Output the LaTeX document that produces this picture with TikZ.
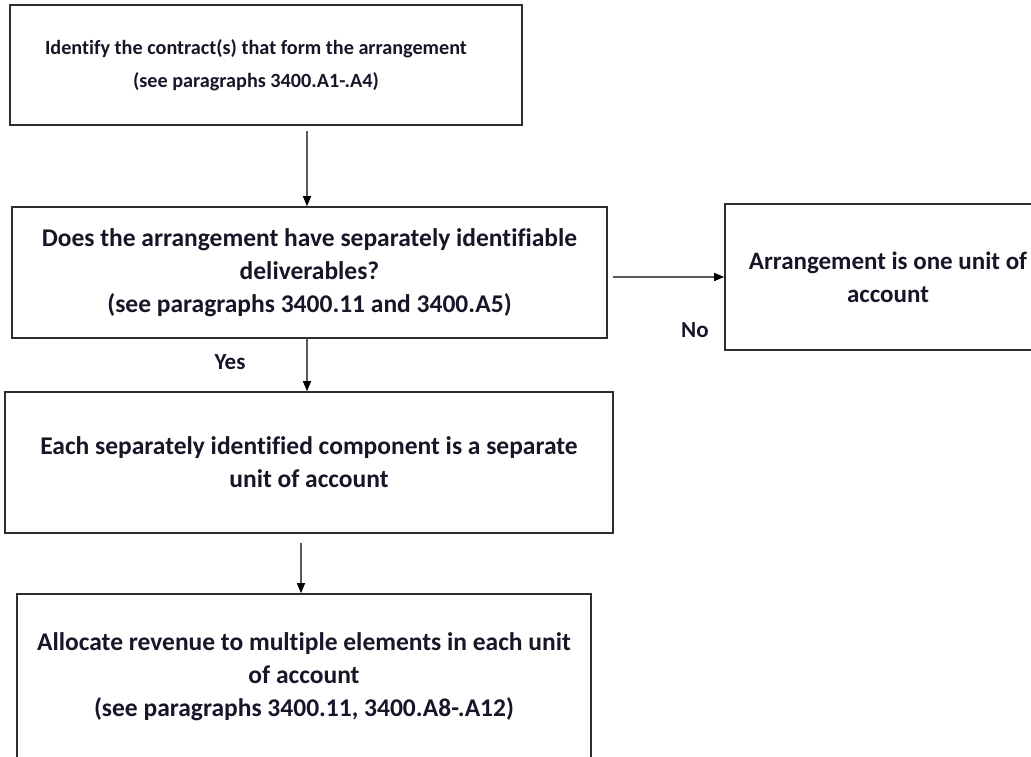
\documentclass[tikz,border=0pt]{standalone}
\usepackage{fontspec}
\setmainfont{Carlito}[Ligatures={NoCommon}]
\usetikzlibrary{arrows.meta}
\definecolor{txt}{RGB}{22,22,40}
\definecolor{edge}{RGB}{45,45,45}
\definecolor{shaft}{RGB}{90,90,90}
\tikzset{
  box/.style={draw=edge, line width=1.6pt, inner sep=0pt, align=center,
    text=txt, font=\bfseries\fontsize{25.5}{33}\selectfont},
  arr/.style={draw=shaft, line width=1.1pt,
    -{Triangle[length=10pt,width=8pt,color=black,fill=black]}},
  lbl/.style={text=txt, font=\bfseries\fontsize{23}{30}\selectfont, inner sep=0pt}
}
\begin{document}
\begin{tikzpicture}[x=1pt,y=-1pt]
\useasboundingbox (0,0) rectangle (1031,757);
\clip (0,0) rectangle (1031,757);
\node[box, minimum width=512pt, minimum height=120pt,
  font=\bfseries\fontsize{20.2}{33}\selectfont] (b1) at (266,65)
  {Identify the contract(s) that form the arrangement\hspace*{20pt}\\(see paragraphs 3400.A1-.A4)\hspace*{20pt}};
\node[box, minimum width=595pt, minimum height=131pt] (b2) at (309.5,272.5)
  {Does the arrangement have separately identifiable\\deliverables?\\(see paragraphs 3400.11 and 3400.A5)};
\node[box, minimum width=326pt, minimum height=146pt,
  font=\bfseries\fontsize{25}{33}\selectfont] (r) at (888,277)
  {Arrangement is one unit of\\account};
\node[box, minimum width=608pt, minimum height=141pt] (b3) at (309,462.5)
  {Each separately identified component is a separate\\unit of account};
\node[box, minimum width=574pt, minimum height=166pt] (b4) at (304,677)
  {Allocate revenue to multiple elements in each unit\\of account\\(see paragraphs 3400.11, 3400.A8-.A12)};
\draw[arr, shorten <=5pt] ([xshift=41pt]b1.south) -- ([xshift=41pt]b1.south |- b2.north);
\draw[arr, shorten <=5pt] (b2.east |- r.west) -- (r.west);
\draw[arr] ([xshift=-2.5pt]b2.south) -- ([xshift=-2.5pt]b2.south |- b3.north);
\draw[arr, shorten <=9pt] ([xshift=-8pt]b3.south) -- ([xshift=-8pt]b3.south |- b4.north);
\node[lbl] (yes) at (230,362) {Yes};
\node[lbl] (no) at (695,330) {No};
\end{tikzpicture}
\end{document}
